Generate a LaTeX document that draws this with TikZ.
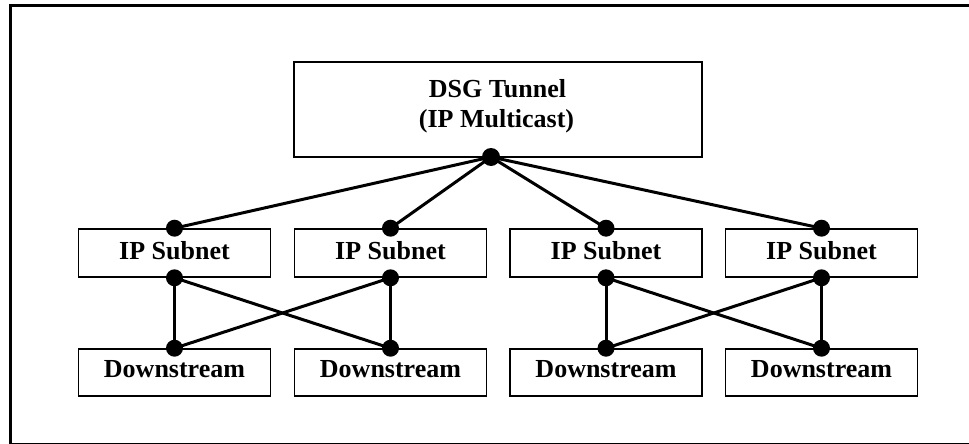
\documentclass[tikz,border=0pt]{standalone}
\usepackage{fontspec}
\setmainfont{Liberation Serif}
\begin{document}
\begin{tikzpicture}[x=1pt,y=-1pt,
  box/.style={draw=black,line width=1.6pt,minimum width=192pt,inner sep=0pt,
    font=\fontsize{26}{30}\selectfont\bfseries},
  subbox/.style={box,minimum height=48pt,text height=18pt,text depth=6pt},
  dsbox/.style={box,minimum height=47pt,text height=18pt,text depth=8pt},
  lbl/.style={inner sep=0pt,anchor=base,font=\fontsize{26}{30}\selectfont\bfseries},
  wire/.style={line width=3pt},
  dot/.style={fill=black}]
\useasboundingbox (0,0) rectangle (969,444);
\begin{scope}
\clip (0,0) rectangle (969,444);
\draw[line width=3pt] (10.5,5.5) rectangle (980,444.5);
\end{scope}
% tunnel
\node[draw=black,line width=1.6pt,minimum width=408pt,minimum height=95pt,inner sep=0pt] (tun) at (498,109.5) {};
\node[lbl] (t1) at (497.5,97) {DSG Tunnel};
\node[lbl] (t2) at (496.5,127) {(IP Multicast)};
\coordinate (tp) at (491,157);
% subnets
\node[subbox] (s1) at (174.5,253) {IP Subnet};
\node[subbox] (s2) at (390.5,253) {IP Subnet};
\node[subbox] (s3) at (606,253) {IP Subnet};
\node[subbox] (s4) at (821.5,253) {IP Subnet};
% downstream
\node[dsbox] (d1) at (174.5,372.5) {Downstream};
\node[dsbox] (d2) at (390.5,372.5) {Downstream};
\node[dsbox] (d3) at (606,372.5) {Downstream};
\node[dsbox] (d4) at (821.5,372.5) {Downstream};
% wires
\foreach \s in {s1,s2,s3,s4} \draw[wire] (tp) -- (\s.north);
\draw[wire] (s1.south) -- (d1.north);
\draw[wire] (s1.south) -- (d2.north);
\draw[wire] (s2.south) -- (d1.north);
\draw[wire] (s2.south) -- (d2.north);
\draw[wire] (s3.south) -- (d3.north);
\draw[wire] (s3.south) -- (d4.north);
\draw[wire] (s4.south) -- (d3.north);
\draw[wire] (s4.south) -- (d4.north);
% dots
\fill[dot] (tp) circle (9pt);
\foreach \n in {s1,s2,s3,s4} {
  \fill[dot] (\n.north) circle (8.5pt);
  \fill[dot] (\n.south) circle (8.5pt);
}
\foreach \n in {d1,d2,d3,d4} \fill[dot] (\n.north) circle (8.5pt);
\end{tikzpicture}
\end{document}
